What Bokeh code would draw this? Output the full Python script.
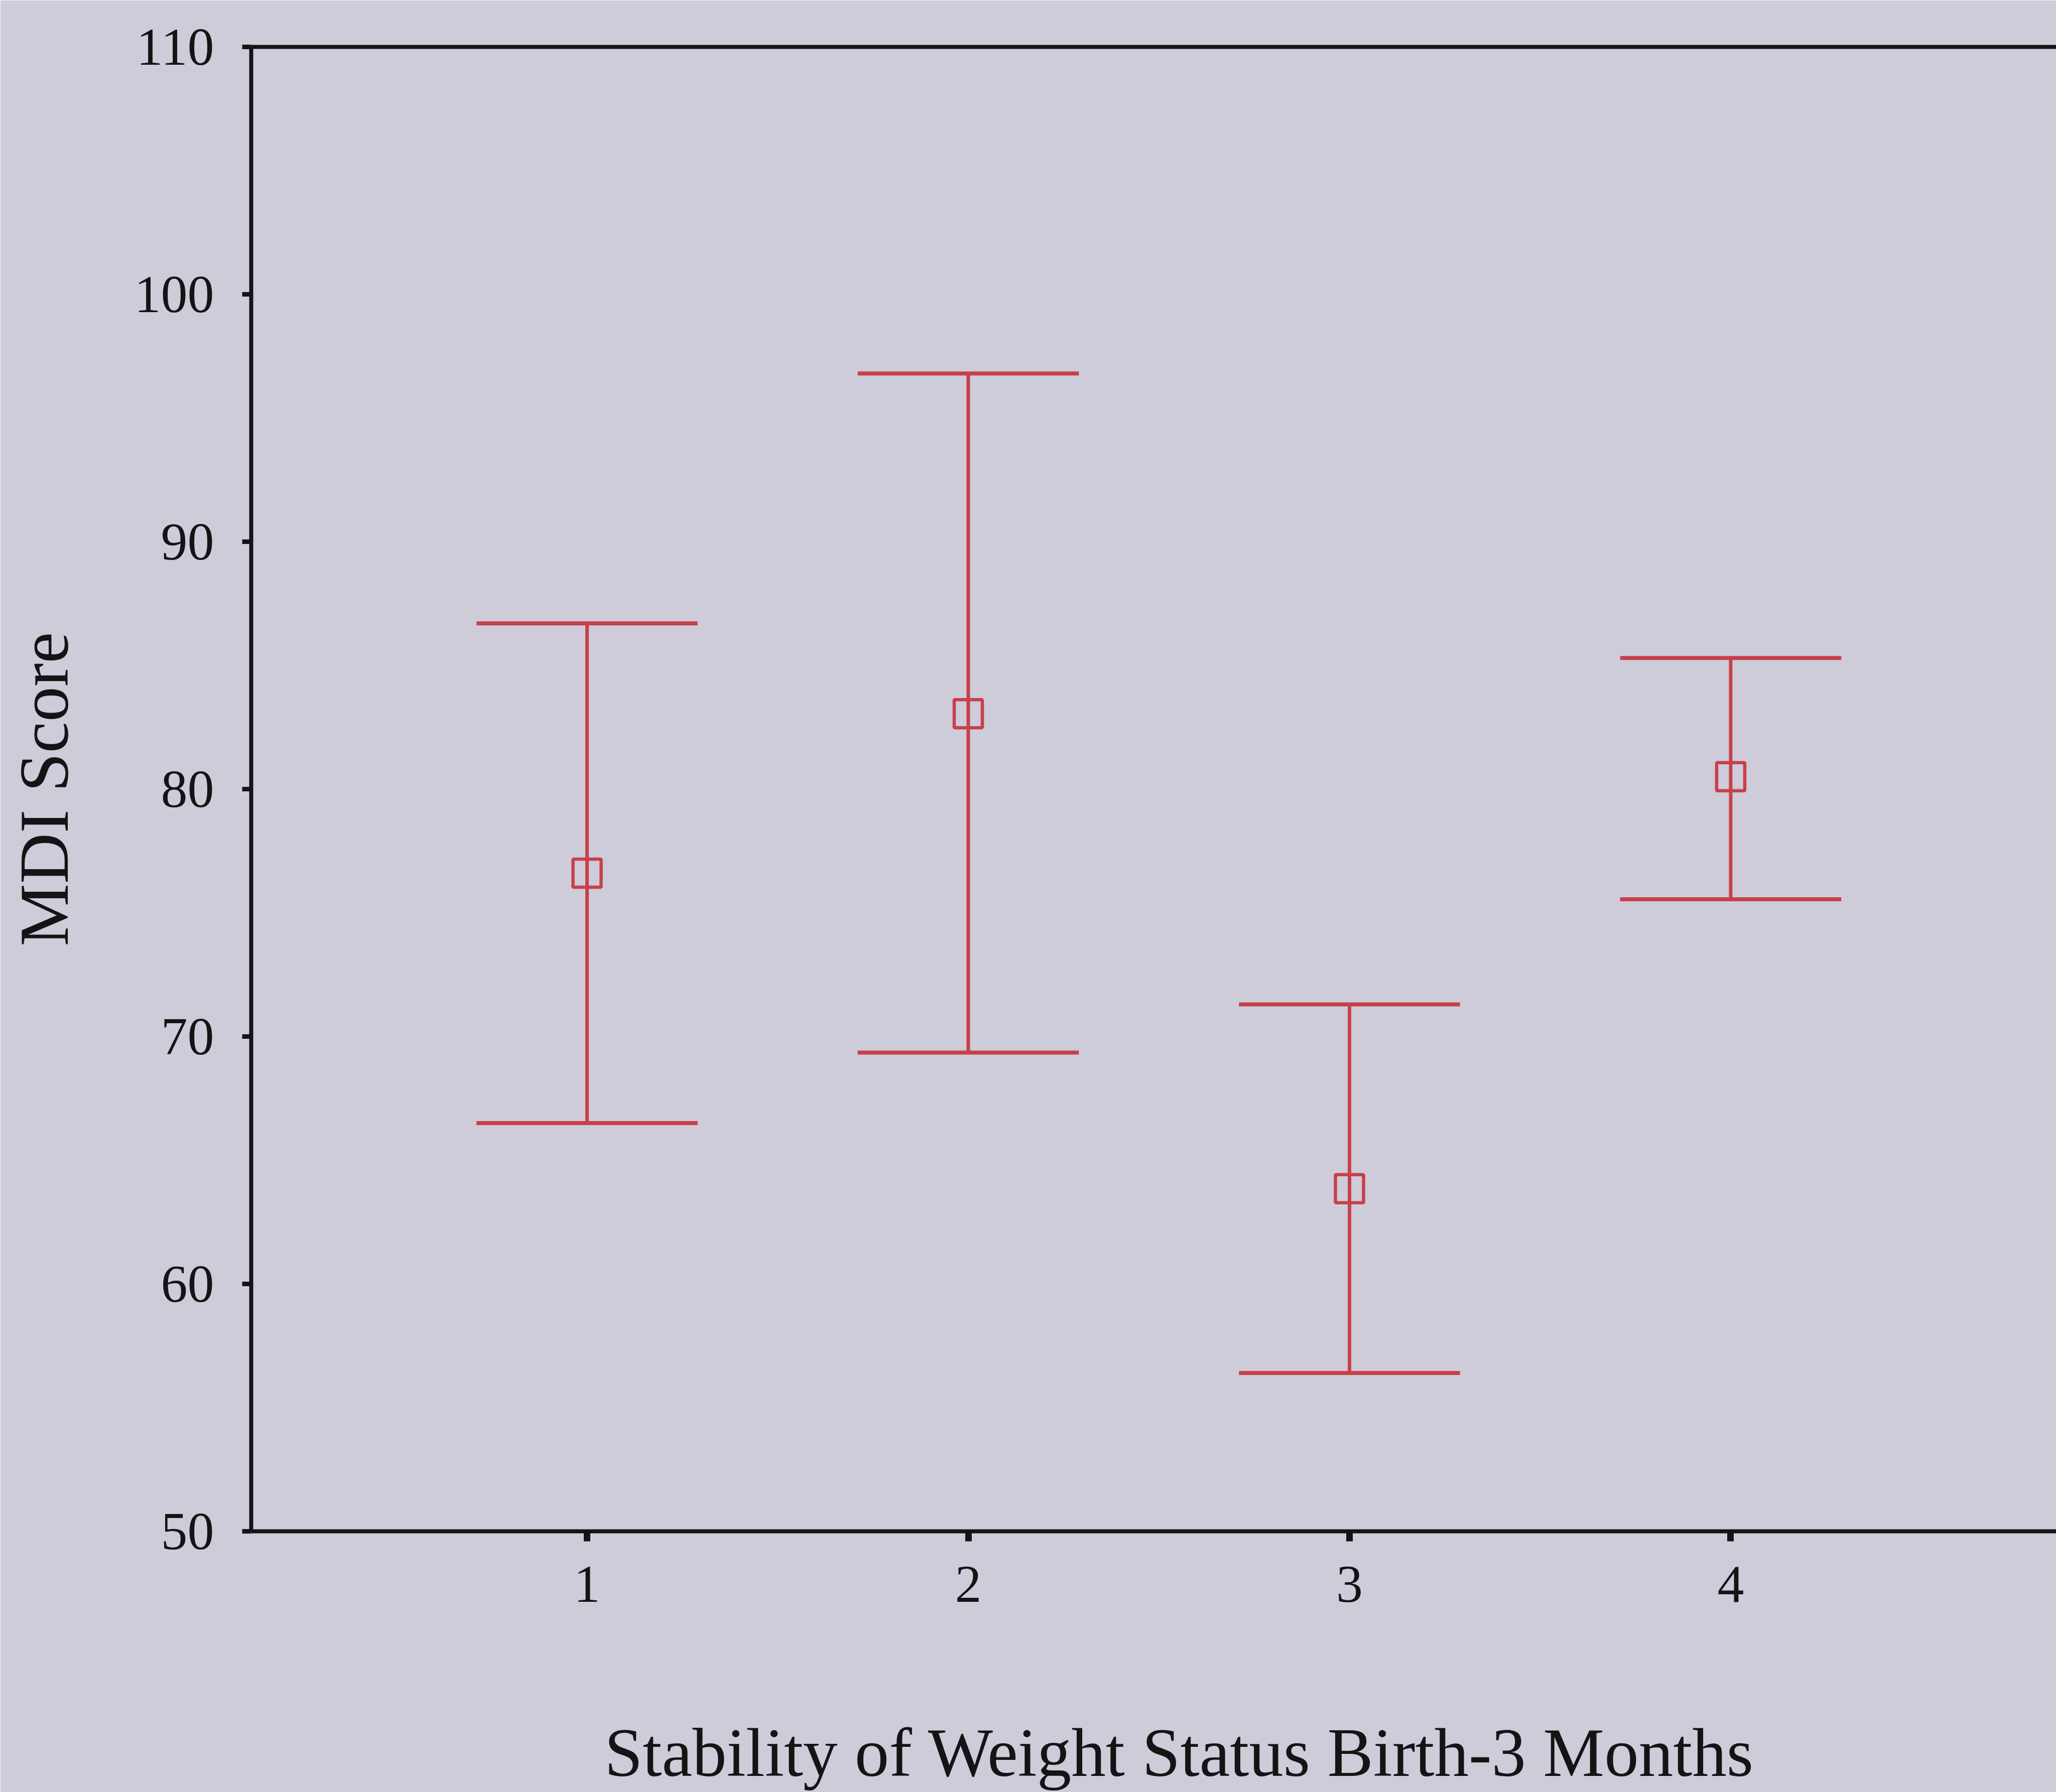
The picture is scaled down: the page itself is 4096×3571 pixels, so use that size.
from bokeh.plotting import figure
from bokeh.models import FixedTicker, LinearAxis, Range1d
from bokeh.embed import file_html
from bokeh.resources import INLINE

# ---- data ----
categories = [1, 2, 3, 4]
means = [76.6, 83.05, 63.85, 80.5]
upper = [86.7, 96.8, 71.3, 85.3]
lower = [66.5, 69.35, 56.4, 75.55]
y_ticks = [50, 60, 70, 80, 90, 100, 110]
x_label = "Stability of Weight Status Birth-3 Months"
y_label = "MDI Score"

# ---- style ----
BG = "#CECCD9"
RED = "#C8404A"
INK = "#141414"
FONT = "Liberation Serif"
CAP_HALF = 0.29
LABEL_SHIFT = "\u00a0\u00a0\u00a0"   # nudges the centred x title slightly right

p = figure(width=4096, height=3571, output_backend="svg", toolbar_location=None,
           x_range=Range1d(0.119, 4.854), y_range=Range1d(50, 110),
           min_border_left=500, min_border_right=0, min_border_top=93,
           min_border_bottom=516)
p.background_fill_color = BG
p.border_fill_color = BG
p.outline_line_color = None
p.grid.visible = False

# x axis
xa = p.xaxis[0]
xa.ticker = FixedTicker(ticks=categories)
xa.axis_line_width = 8
xa.axis_line_color = INK
xa.major_tick_in = 0
xa.major_tick_out = 20
xa.major_tick_line_width = 13
xa.major_tick_line_color = INK
xa.minor_tick_line_color = None
xa.major_label_text_font = FONT
xa.major_label_text_font_size = "106px"
xa.major_label_text_color = INK
xa.major_label_standoff = 50
xa.axis_label = LABEL_SHIFT + x_label
xa.axis_label_text_font = FONT
xa.axis_label_text_font_size = "137px"
xa.axis_label_text_font_style = "normal"
xa.axis_label_text_color = INK
xa.axis_label_standoff = 222

# y axis
ya = p.yaxis[0]
ya.ticker = FixedTicker(ticks=y_ticks)
ya.axis_line_width = 8
ya.axis_line_color = INK
ya.major_tick_in = 0
ya.major_tick_out = 18
ya.major_tick_line_width = 9
ya.major_tick_line_color = INK
ya.minor_tick_line_color = None
ya.major_label_text_font = FONT
ya.major_label_text_font_size = "106px"
ya.major_label_text_color = INK
ya.major_label_standoff = 56
ya.axis_label = y_label
ya.axis_label_text_font = FONT
ya.axis_label_text_font_size = "140px"
ya.axis_label_text_font_style = "normal"
ya.axis_label_text_color = INK
ya.axis_label_standoff = 100

# top frame line
top = LinearAxis(ticker=FixedTicker(ticks=[]), major_label_text_font_size="0px",
                 axis_line_width=8, axis_line_color=INK,
                 major_tick_line_color=None, minor_tick_line_color=None)
p.add_layout(top, "above")

# error bars
p.segment(x0=categories, y0=lower, x1=categories, y1=upper,
          line_color=RED, line_width=7)
p.segment(x0=[c - CAP_HALF for c in categories], y0=upper,
          x1=[c + CAP_HALF for c in categories], y1=upper,
          line_color=RED, line_width=8)
p.segment(x0=[c - CAP_HALF for c in categories], y0=lower,
          x1=[c + CAP_HALF for c in categories], y1=lower,
          line_color=RED, line_width=8)
p.scatter(x=categories, y=means, marker="square", size=56,
          fill_color=None, line_color=RED, line_width=6.5)

open("out.html", "w").write(file_html(p, INLINE))
